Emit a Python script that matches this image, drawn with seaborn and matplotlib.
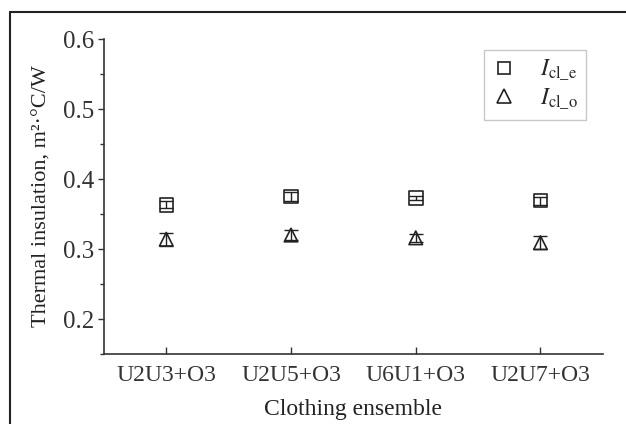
import matplotlib
matplotlib.use("Agg")
import matplotlib.pyplot as plt
from matplotlib.lines import Line2D
from matplotlib.ticker import MultipleLocator
import seaborn as sns
import pandas as pd

ensembles = ["U2U3+O3", "U2U5+O3", "U6U1+O3", "U2U7+O3"]
icl_e = [0.363, 0.375, 0.373, 0.369]
icl_e_err = [0.005, 0.006, 0.003, 0.006]
icl_o = [0.314, 0.320, 0.316, 0.309]
icl_o_err = [0.009, 0.007, 0.006, 0.009]

sns.set_theme(style="white")
plt.rcParams["font.family"] = ["Liberation Serif", "DejaVu Serif"]
plt.rcParams["mathtext.fontset"] = "stix"

df = pd.DataFrame({
    "ensemble": ensembles * 2,
    "value": icl_e + icl_o,
    "err": icl_e_err + icl_o_err,
    "series": ["e"] * 4 + ["o"] * 4,
})

fig = plt.figure(figsize=(6.26, 4.24), dpi=100)
ax = fig.add_axes([0.166, 0.165, 0.797, 0.743])

pos = {c: i for i, c in enumerate(ensembles)}
for s in ["e", "o"]:
    sub = df[df.series == s]
    xs = [pos[c] for c in sub.ensemble]
    ax.errorbar(xs, sub.value, yerr=sub.err, fmt="none", ecolor="#222222",
                elinewidth=1.0, capsize=5, capthick=1.0, zorder=2)

sns.scatterplot(data=df, x="ensemble", y="value", style="series",
                markers={"e": "s", "o": "^"}, s=95, facecolors="none",
                edgecolor="#222222", linewidth=1.2, legend=False, ax=ax, zorder=3)

ax.set_xlim(-0.5, 3.5)
ax.set_ylim(0.15, 0.6)
ax.yaxis.set_minor_locator(MultipleLocator(0.05))
ax.set_yticks([0.2, 0.3, 0.4, 0.5, 0.6])
ax.set_yticklabels(["0.2", "0.3", "0.4", "0.5", "0.6"])
ax.set_xticks(range(4))
ax.set_xticklabels(ensembles)

for sp in ["top", "right"]:
    ax.spines[sp].set_visible(False)
for sp in ["left", "bottom"]:
    ax.spines[sp].set_color("#333333")
    ax.spines[sp].set_linewidth(1.2)

ax.tick_params(axis="y", which="major", direction="out", length=4, width=1,
               color="#333333", labelsize=18, labelcolor="#333333", pad=3, left=True)
ax.tick_params(axis="y", which="minor", direction="out", length=3, width=1,
               color="#333333", left=True)
ax.tick_params(axis="x", which="major", direction="in", length=5, width=1,
               color="#333333", labelsize=17, labelcolor="#333333", pad=8, bottom=True)

ax.set_xlabel("Clothing ensemble", fontsize=17, color="#222222", labelpad=9)
ax.set_ylabel("Thermal insulation, m²·°C/W", fontsize=16, color="#222222", labelpad=8)

handles = [
    Line2D([], [], marker="s", linestyle="none", markerfacecolor="none",
           markeredgecolor="#222222", markersize=9, markeredgewidth=1.2),
    Line2D([], [], marker="^", linestyle="none", markerfacecolor="none",
           markeredgecolor="#222222", markersize=10.5, markeredgewidth=1.2),
]
labels = [r"$I_{\mathrm{cl\_e}}$", r"$I_{\mathrm{cl\_o}}$"]
leg = ax.legend(handles, labels, loc="upper right", bbox_to_anchor=(0.966, 0.965),
                borderaxespad=0, fancybox=False, frameon=True, fontsize=17,
                handlelength=1.0, handletextpad=1.0, borderpad=0.35,
                labelspacing=0.15)
leg.get_frame().set_edgecolor("#bbbbbb")
leg.get_frame().set_linewidth(1.0)

# figure border (left and top)
fig.add_artist(Line2D([10 / 626, 10 / 626], [0, 1 - 12 / 424],
                      transform=fig.transFigure, color="#222222", lw=1.5))
fig.add_artist(Line2D([10 / 626, 1], [1 - 12 / 424, 1 - 12 / 424],
                      transform=fig.transFigure, color="#222222", lw=1.5))

fig.savefig("out.png", dpi=100)
